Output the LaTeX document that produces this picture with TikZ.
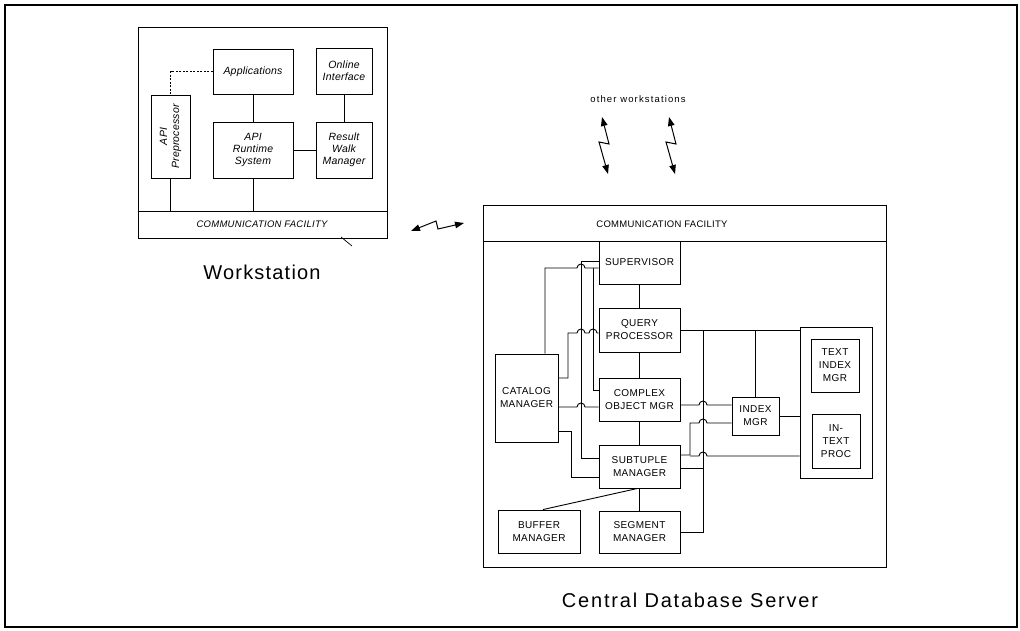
\documentclass[tikz,border=0pt]{standalone}
\usepackage{fontspec}
\setmainfont{Liberation Sans}
\usetikzlibrary{arrows.meta}
\begin{document}
\begin{tikzpicture}[x=1pt,y=-1pt,
  ln/.style={line width=0.9pt},
  box/.style={draw,line width=0.9pt,inner sep=0pt,align=center},
  wsfont/.style={font=\fontsize{10.5}{12}\selectfont\itshape\addfontfeature{LetterSpace=2}},
  srvfont/.style={font=\fontsize{10}{13}\selectfont\addfontfeature{LetterSpace=4}},
  wsbox/.style={box,wsfont},
  srvbox/.style={box,srvfont},
  bolt/.style={line width=1pt,{Triangle[length=9pt,width=6.5pt]}-{Triangle[length=9pt,width=6.5pt]}},
  bigtitle/.style={font=\fontsize{20}{24}\selectfont\addfontfeature{LetterSpace=6}},
]
\useasboundingbox (0,0) rectangle (1020,631);
% outer frame
\node[draw,line width=1.1pt,minimum width=1012pt,minimum height=622pt,inner sep=0pt] (frame) at (511,316) {};

% ---------------- Workstation ----------------
\node[box,minimum width=249pt,minimum height=211pt] (ws) at (262.5,132.5) {};
\draw[ln] (ws.west |- 0,211) -- (ws.east |- 0,211);
\node[font=\fontsize{9.5}{11}\selectfont\itshape\addfontfeature{LetterSpace=3}] (wscf) at (262,224.5) {COMMUNICATION FACILITY};
\node[wsbox,minimum width=80pt,minimum height=45pt] (apps) at (253,71.5) {Applications};
\node[wsbox,minimum width=56pt,minimum height=46pt] (online) at (344,71) {Online\\Interface};
\node[wsbox,minimum width=39pt,minimum height=83pt] (prep) at (170.5,136.5) {};
\node[wsfont,rotate=90,align=center] (preptxt) at (prep.center) {API\\Preprocessor};
\node[wsbox,minimum width=80pt,minimum height=56pt] (runtime) at (253,150) {API\\Runtime\\System};
\node[wsbox,minimum width=56pt,minimum height=56pt] (result) at (344,150) {Result\\Walk\\Manager};
\draw[ln,dash pattern=on 2pt off 1.5pt] (apps.west) -| (prep.north);
\draw[ln] (apps.south) -- (runtime.north);
\draw[ln] (online.south) -- (result.north);
\draw[ln] (runtime.east) -- (result.west);
\draw[ln] (prep.south) -- (prep.south |- 0,211);
\draw[ln] (runtime.south) -- (runtime.south |- 0,211);
\coordinate (tickA) at (341,237);
\coordinate (tickB) at (352,246);
\draw[line width=0.7pt] (tickA) -- (tickB);
\node[bigtitle] (wstitle) at (262,272) {Workstation};

% link between workstation and server
\coordinate (b1a) at (411,231);
\coordinate (b1d) at (464,223);
\draw[bolt] (b1a) -- (436,221) -- (438,229) -- (b1d);

% other workstations
\node[font=\fontsize{9.5}{11}\selectfont\addfontfeature{LetterSpace=12}] (other) at (638,99) {other workstations};
\coordinate (b2a) at (602,117);
\coordinate (b2d) at (608,174);
\draw[bolt] (b2a) -- (609,144) -- (599,142) -- (b2d);
\coordinate (b3a) at (669,117);
\coordinate (b3d) at (675,174);
\draw[bolt] (b3a) -- (676,144) -- (666,142) -- (b3d);

% ---------------- Server ----------------
\node[box,minimum width=403pt,minimum height=362pt] (srv) at (684.5,386) {};
\draw[ln] (srv.west |- 0,241) -- (srv.east |- 0,241);
\node[font=\fontsize{9.5}{11}\selectfont\addfontfeature{LetterSpace=3}] (srvcf) at (662,224) {COMMUNICATION FACILITY};
\node[srvbox,minimum width=81pt,minimum height=43pt] (sup) at (639.5,262.5) {SUPERVISOR};
\node[srvbox,minimum width=81pt,minimum height=44pt] (qp) at (639.5,330) {QUERY\\PROCESSOR};
\node[srvbox,minimum width=81pt,minimum height=43pt] (com) at (639.5,399.5) {COMPLEX\\OBJECT MGR};
\node[srvbox,minimum width=81pt,minimum height=43pt] (sub) at (639.5,466.5) {SUBTUPLE\\MANAGER};
\node[srvbox,minimum width=81pt,minimum height=42pt] (seg) at (639.5,532) {SEGMENT\\MANAGER};
\node[srvbox,minimum width=82pt,minimum height=43pt] (buf) at (539,531.5) {BUFFER\\MANAGER};
\node[srvbox,minimum width=63pt,minimum height=88pt] (cat) at (526.5,398) {CATALOG\\MANAGER};
\node[srvbox,minimum width=47pt,minimum height=38pt] (idx) at (755.5,416) {INDEX\\MGR};
\node[box,minimum width=72pt,minimum height=151pt] (tgrp) at (836,402.5) {};
\node[srvbox,minimum width=48pt,minimum height=53pt] (tim) at (835,365.5) {TEXT\\INDEX\\MGR};
\node[srvbox,minimum width=48pt,minimum height=54pt] (itp) at (836,441) {IN-\\TEXT\\PROC};
\node[font=\fontsize{20}{24}\selectfont\addfontfeature{LetterSpace=9}] (srvtitle) at (690,600) {Central Database Server};

% vertical chain
\draw[ln] (sup.south) -- (qp.north);
\draw[ln] (qp.south) -- (com.north);
\draw[ln] (com.south) -- (sub.north);
\draw[ln] (sub.south) -- (seg.north);
\draw[ln] ([xshift=-2pt]sub.south) -- ([xshift=4pt]buf.north);

% right side
\draw[ln] (qp.east) -- (qp.east -| tgrp.west);
\draw[ln] (qp.east -| 703,0) |- (seg.east);
\draw[line width=1.7pt] (qp.east -| idx.north) -- (idx.north);
\draw[ln] (com.east |- 0,405) -- (699,405) arc[start angle=180,end angle=360,radius=4] -- (idx.west |- 0,405);
\draw[ln] (sub.east |- 0,455) -- (690,455) -- (690,423) -- (699,423) arc[start angle=180,end angle=360,radius=4] -- (idx.west |- 0,423);
\coordinate (j1) at (690,456);
\draw[ln] (j1) -- (699,456) arc[start angle=180,end angle=360,radius=4] -- (tgrp.west |- 0,456);
\draw[ln] (sub.east |- 0,468) -- (703,468);
\draw[ln] (idx.east) -- (idx.east -| tgrp.west);

% left side
\draw[ln] (sup.west |- 0,261) -- (581,261) -- (581,458) -- (sub.west |- 0,458);
\draw[ln] (cat.north -| 545,0) -- (545,268) -- (577,268) arc[start angle=180,end angle=360,radius=4] -- (sup.west |- 0,268);
\draw[ln] (593,268) -- (593,390) -- (com.west |- 0,390);
\draw[ln] (cat.east |- 0,378) -- (568,378) -- (568,333) -- (577,333) arc[start angle=180,end angle=360,radius=4] -- (589,333) arc[start angle=180,end angle=360,radius=4] -- (qp.west |- 0,333);
\draw[ln] (cat.east |- 0,407) -- (577,407) arc[start angle=180,end angle=360,radius=4] -- (com.west |- 0,407);
\draw[ln] (cat.east |- 0,431) -- (571,431) -- (571,477) -- (sub.west |- 0,477);
\end{tikzpicture}
\end{document}
